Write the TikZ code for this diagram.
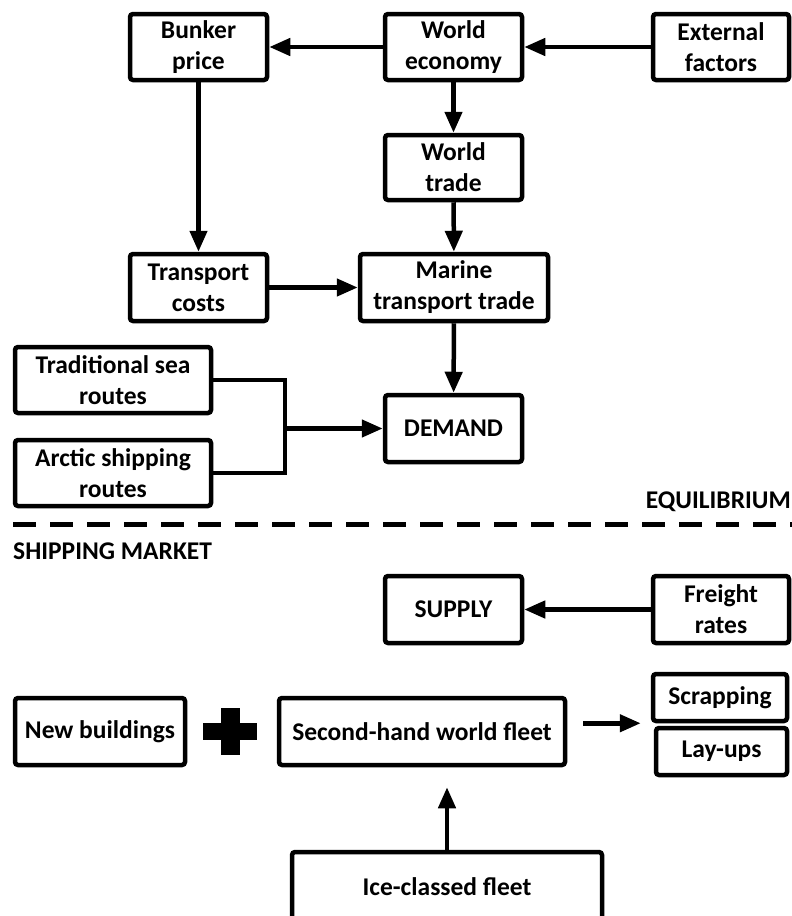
\documentclass[tikz,border=0pt]{standalone}
\usepackage{fontspec}
\setmainfont{Carlito}
\usepackage{tikz}
\usetikzlibrary{arrows.meta}
\newcommand{\ArrTip}{Triangle[length=21,width=17]}
\tikzset{box/.style={draw,line width=4.5,rounded corners=3,inner sep=0,align=center,minimum width=137,minimum height=66,font=\fontsize{25.5}{31}\selectfont\bfseries}}
\tikzset{arr/.style={line width=4.5,-{\ArrTip}}}
\tikzset{lbl/.style={inner sep=0,anchor=base west,font=\fontsize{25.5}{31}\selectfont\bfseries}}
\begin{document}
\begin{tikzpicture}[x=1pt,y=-1pt]
\path[use as bounding box,fill=white](0,0)rectangle(792,916);\clip(0,0)rectangle(792,916);
\node(bp)[box]at(198.5,47){Bunker\\price};\node(we)[box]at(453.5,47){World\\economy};
\node(ef)[box,minimum width=136]at(721,47){External\\factors};\node(wt)[box,minimum height=65]at(453.5,167.5){World\\trade};
\node(tc)[box,minimum height=67]at(198.5,287.5){Transport\\costs};\node(mt)[box,minimum width=188,minimum height=67]at(454,287.5){Marine\\transport trade};
\node(tsr)[box,minimum width=196]at(113,380){Traditional sea\\routes};\node(asr)[box,minimum width=196]at(113,473){Arctic shipping\\routes};
\node(dem)[box,minimum height=67]at(453.5,428.5){DEMAND};
\node(sup)[box,minimum height=67]at(453.5,609.5){SUPPLY};\node(fr)[box,minimum width=136,minimum height=67]at(721,609.5){Freight\\rates};
\node(nb)[box,minimum width=170,minimum height=67]at(100,731.5){New buildings};
\node(shf)[box,minimum width=286,minimum height=67]at(422,731.5){Second-hand world fleet};
\node(scr)[box,minimum width=134,minimum height=47]at(720,697.5){Scrapping};\node(lay)[box,minimum width=131,minimum height=47]at(721.5,751.5){Lay-ups};
\node(ice)[box,minimum width=310,minimum height=70]at(447,887){Ice-classed fleet};
\fill(203,723)rectangle(257,740);\fill(221,708)rectangle(240,755);
\draw[arr](we)--(bp);\draw[arr](ef)--(we);\draw[arr](we)--(wt);\draw[arr](wt)--(mt);
\draw[arr](bp)--(tc);\draw[arr](tc)--(mt);\draw[arr](mt)--(dem);\draw[arr](fr)--(sup);
\path(dem.west)++(-98,0)coordinate(jn);
\draw[line width=4.5](tsr.east)-|(jn)|-(asr.east);\draw[arr](jn)--(dem.west);
\draw[arr,shorten <=16,shorten >=10](shf.east|-scr.south)--(scr.south west);
\draw[arr,shorten >=20](ice.north)--(ice.north|-shf.south);
\draw[line width=5,dash pattern=on 23 off 14](13,524)--(800,524);
\node[lbl,anchor=base east]at(791,508){EQUILIBRIUM};\node[lbl]at(13,559){SHIPPING MARKET};
\end{tikzpicture}
\end{document}
